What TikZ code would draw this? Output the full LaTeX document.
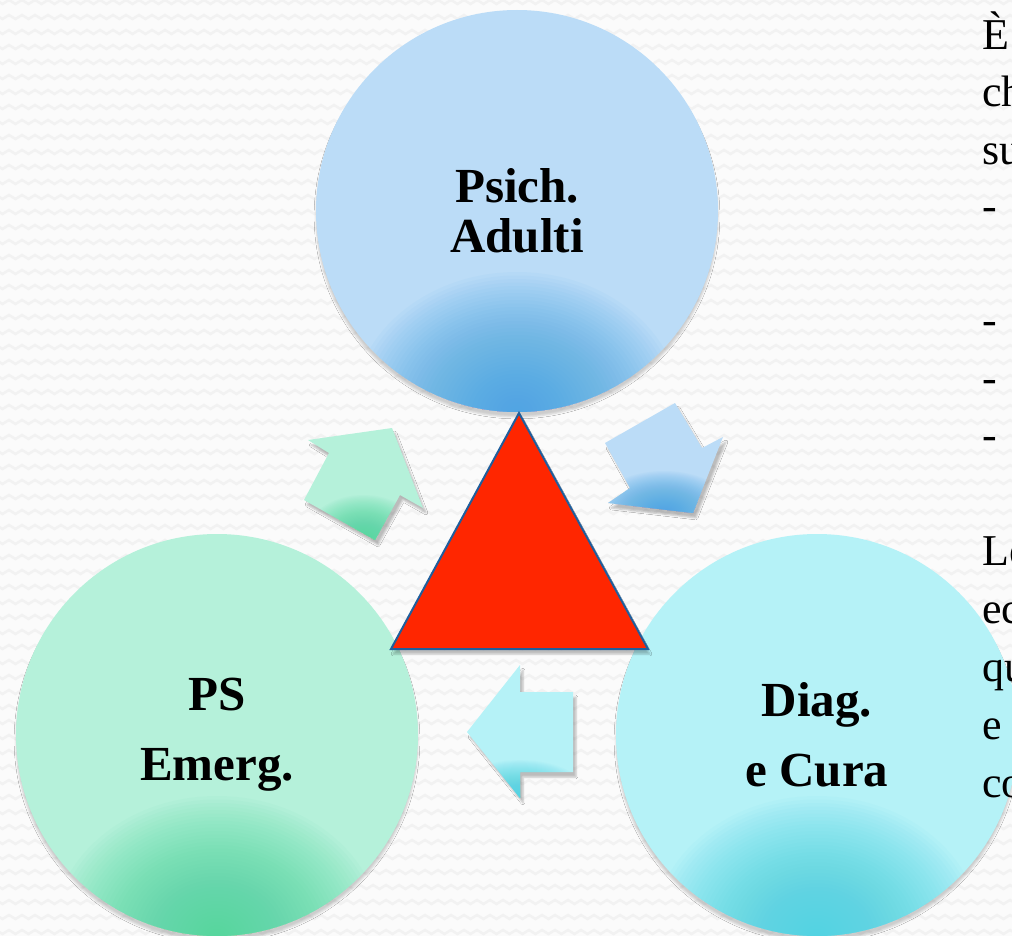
\documentclass[tikz,border=0pt]{standalone}
\usepackage{fontspec}
\setmainfont{Liberation Serif}
\usetikzlibrary{shadows.blur}
\definecolor{PaperGray}{HTML}{FBFBFB}
\definecolor{ZigGray}{HTML}{F2F2F2}
\definecolor{AdultiBlue}{HTML}{BBDCF7}
\definecolor{AdultiDeep}{HTML}{45A5E3}
\definecolor{EmergGreen}{HTML}{B5F1DA}
\definecolor{EmergDeep}{HTML}{4DD69E}
\definecolor{CuraCyan}{HTML}{B5F2F7}
\definecolor{CuraDeep}{HTML}{48D3E2}
\definecolor{TriRed}{HTML}{FF2600}
\definecolor{TriEdge}{HTML}{1F5E9C}

\tikzset{
  zigzag/.style={ZigGray, line width=2.5pt},
  bubble/.style={circle, minimum size=402pt, inner sep=0pt, align=center,
    font=\fontsize{49}{50}\selectfont\bfseries,
    blur shadow={shadow xshift=0pt, shadow yshift=-5pt, shadow opacity=18}},
  lowglow/.style n args={3}{path picture={
    \foreach \k in {1,...,40}
      \fill[#1, opacity=0.045] (path picture bounding box.south) ellipse ({#2*\k/40} and {#3*\k/40});}},
  blockarrow/.style={blur shadow={shadow xshift=3pt, shadow yshift=-5pt, shadow opacity=25}},
  warning/.style={fill=TriRed, draw=TriEdge, line width=2pt, line join=miter,
    blur shadow={shadow xshift=2pt, shadow yshift=-5pt, shadow opacity=25}},
  note/.style={anchor=base west, inner sep=0pt, font=\fontsize{44}{50}\selectfont},
}

\begin{document}
\begin{tikzpicture}[x=1pt, y=-1pt]
  \useasboundingbox (0,0) rectangle (1012,936);
  \clip (0,0) rectangle (1012,936);

  % background
  \fill[PaperGray] (0,0) rectangle (1012,936);
  \foreach \r in {0,...,63}
    \draw[zigzag] (-4,\r*15) \foreach \c in {0,...,78} {-- ++(6.5,4) -- ++(6.5,-4)};

  % circles
  \node[bubble, fill=AdultiBlue, lowglow={AdultiDeep}{165}{140}] (adulti) at (517,211) {Psich.\\Adulti};
  \node[bubble, fill=EmergGreen, lowglow={EmergDeep}{165}{140}] (emerg) at (217,735) {PS\\[20pt]Emerg.};
  \node[bubble, fill=CuraCyan, lowglow={CuraDeep}{165}{140}] (cura) at (817,735) {Diag.\\[20pt]e Cura};

  % triangle
  \coordinate (apex) at (519,413);
  \coordinate (baseL) at (391,649);
  \coordinate (baseR) at (648,649);
  \draw[warning] (apex) -- (baseR) -- (baseL) -- cycle;

  % arrows
  \fill[blockarrow, fill=EmergGreen, lowglow={EmergDeep}{60}{45}]
    (392,428) -- (423,508) -- (400,495) -- (375,540) -- (304,500) -- (329,453) -- (308,440) -- cycle;
  \fill[blockarrow, fill=AdultiBlue, lowglow={AdultiDeep}{70}{42}]
    (605,443) -- (675,403) -- (702,448) -- (723,437) -- (693,513) -- (608,503) -- (630,488) -- cycle;
  \fill[blockarrow, fill=CuraCyan, lowglow={CuraDeep}{70}{38}]
    (467,732) -- (520,665) -- (520,692) -- (573,692) -- (573,772) -- (520,772) -- (520,798) -- cycle;

  % side text (cut at the edge)
  \node[note] (t1) at (982,50) {È};
  \node[note] (t2) at (982,107) {ch};
  \node[note] (t3) at (982,165) {su};
  \node[note] (t4) at (982,221) {-};
  \node[note] (t5) at (982,334) {-};
  \node[note] (t6) at (982,392) {-};
  \node[note] (t7) at (982,449) {-};
  \node[note] (t8) at (982,565) {Le};
  \node[note] (t9) at (982,623) {ec};
  \node[note] (t10) at (982,681) {qu};
  \node[note] (t11) at (982,739) {e};
  \node[note] (t12) at (982,797) {co};
\end{tikzpicture}
\end{document}
